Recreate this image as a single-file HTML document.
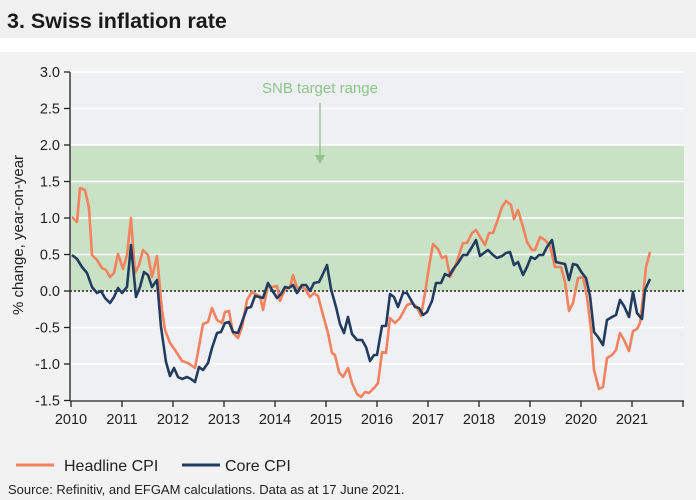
<!DOCTYPE html>
<html><head><style>
body{margin:0;width:696px;height:500px;overflow:hidden;background:#f1f1f1;font-family:"Liberation Sans",sans-serif}
</style></head><body>
<svg width="696" height="500" xmlns="http://www.w3.org/2000/svg" style="position:absolute;left:0;top:0">
<rect x="0" y="0" width="696" height="38" fill="#f0f0f0"/>
<rect x="0" y="38" width="696" height="14" fill="#ffffff"/>
<rect x="0" y="52" width="696" height="448" fill="#f2f2f2"/>
<text x="7" y="28" font-size="21.5" font-weight="bold" fill="#1a1a1a">3. Swiss inflation rate</text>
<rect x="70" y="72" width="614" height="329" fill="#eef0f4"/>
<rect x="70" y="145" width="614" height="146" fill="#c9e1c5"/>
<g stroke="#ffffff" stroke-width="1.5">
<line x1="70" x2="684" y1="72" y2="72"/><line x1="70" x2="684" y1="108.5" y2="108.5"/>
<line x1="70" x2="684" y1="145" y2="145"/><line x1="70" x2="684" y1="181.5" y2="181.5"/>
<line x1="70" x2="684" y1="218" y2="218"/><line x1="70" x2="684" y1="254.5" y2="254.5"/>
<line x1="70" x2="684" y1="327.5" y2="327.5"/><line x1="70" x2="684" y1="364" y2="364"/>
</g>
<line x1="70" x2="684" y1="291" y2="291" stroke="#222" stroke-width="1.5" stroke-dasharray="2,2"/>
<text x="320" y="93" font-size="15" fill="#8dc48b" text-anchor="middle">SNB target range</text>
<line x1="320" x2="320" y1="103" y2="160" stroke="#8dc48b" stroke-width="1.3"/>
<polygon points="315,155 325,155 320,164" fill="#8dc48b"/>
<polyline fill="none" stroke="#f4825f" stroke-width="2.6" stroke-linejoin="round" points="72,217 77,222 80,188 85,190 89,208 92,255 97,260 102,268 106,270 110,277 114,273 118,254 123,269 127,255 131,218 135,273 139,265 143,250 148,255 152,277 157,256 162,310 165,330 170,343 175,350 182,361 188,363 195,368 198,352 203,324 208,322 212,308 217,320 222,323 225,312 229,311 233,333 238,338 242,327 247,300 252,292 257,295 260,296 263,310 268,285 272,287 277,286 280,301 285,289 290,287 293,275 297,288 302,287 305,289 310,297 314,293 318,296 323,315 328,333 332,353 335,355 339,372 343,377 348,368 352,383 357,394 361,397 365,392 369,393 375,387 378,383 382,352 386,353 390,318 395,323 400,318 407,305 412,303 417,307 421,316 425,293 429,267 433,244 438,249 442,258 446,256 450,277 455,267 459,255 463,243 467,243 472,233 476,230 480,237 485,245 489,233 493,233 497,222 502,207 506,201 511,205 514,219 518,210 523,227 527,242 532,250 535,250 540,237 545,240 550,246 555,267 561,267 565,282 569,311 573,303 578,278 583,277 587,297 591,330 594,370 599,389 603,387 607,358 612,355 616,350 620,333 624,340 629,351 633,331 637,329 640,323 643,297 646,267 650,252"/>
<polyline fill="none" stroke="#233c5e" stroke-width="2.6" stroke-linejoin="round" points="72,255 77,259 82,267 87,273 92,287 97,293 101,291 105,298 110,303 114,297 118,288 122,293 127,287 131,245 136,297 140,287 144,272 148,275 152,287 157,280 161,327 166,362 170,376 174,368 178,377 182,379 187,377 191,379 195,382 199,367 203,370 208,363 212,348 217,333 221,332 225,323 229,322 233,332 238,333 242,322 247,308 251,307 255,296 259,297 263,298 268,283 272,290 277,298 281,294 285,287 289,288 293,285 297,293 302,285 306,285 310,291 314,283 319,282 322,276 327,265 331,289 336,307 340,324 344,333 348,317 352,334 357,340 362,340 366,347 370,361 374,355 377,355 382,326 386,326 390,294 394,297 398,307 403,293 407,293 411,300 415,307 419,308 423,315 427,312 432,301 436,283 441,283 445,274 449,276 454,268 458,263 463,255 467,255 472,247 476,240 480,256 484,253 488,250 493,255 497,258 502,256 506,253 510,252 514,265 518,262 523,275 527,267 531,257 535,259 539,255 543,255 547,247 552,240 556,262 560,263 565,264 569,280 573,264 577,265 582,273 586,278 590,296 594,332 598,337 603,345 607,320 612,317 616,315 620,300 624,306 629,317 633,292 637,313 642,319 645,290 650,279"/>
<g stroke="#222" stroke-width="1.3">
<line x1="70" x2="70" y1="72" y2="401"/>
<line x1="70" x2="684" y1="401" y2="401"/>
<line x1="64" x2="70" y1="72" y2="72"/><line x1="64" x2="70" y1="108.5" y2="108.5"/><line x1="64" x2="70" y1="145" y2="145"/><line x1="64" x2="70" y1="181.5" y2="181.5"/><line x1="64" x2="70" y1="218" y2="218"/><line x1="64" x2="70" y1="254.5" y2="254.5"/><line x1="64" x2="70" y1="291" y2="291"/><line x1="64" x2="70" y1="327.5" y2="327.5"/><line x1="64" x2="70" y1="364" y2="364"/><line x1="64" x2="70" y1="400.5" y2="400.5"/>
<line x1="71" x2="71" y1="401" y2="407"/><line x1="122" x2="122" y1="401" y2="407"/><line x1="173" x2="173" y1="401" y2="407"/><line x1="224" x2="224" y1="401" y2="407"/><line x1="275" x2="275" y1="401" y2="407"/><line x1="326" x2="326" y1="401" y2="407"/><line x1="377" x2="377" y1="401" y2="407"/><line x1="428" x2="428" y1="401" y2="407"/><line x1="479" x2="479" y1="401" y2="407"/><line x1="530" x2="530" y1="401" y2="407"/><line x1="581" x2="581" y1="401" y2="407"/><line x1="632" x2="632" y1="401" y2="407"/><line x1="683" x2="683" y1="401" y2="407"/>
</g>
<g font-size="14.5" fill="#222" text-anchor="end">
<text x="60" y="77">3.0</text><text x="60" y="113.5">2.5</text><text x="60" y="150">2.0</text><text x="60" y="186.5">1.5</text><text x="60" y="223">1.0</text><text x="60" y="259.5">0.5</text><text x="60" y="296">0.0</text><text x="60" y="332.5">-0.5</text><text x="60" y="369">-1.0</text><text x="60" y="405.5">-1.5</text>
</g>
<g font-size="14.5" fill="#222" text-anchor="middle">
<text x="71" y="424">2010</text><text x="122" y="424">2011</text><text x="173" y="424">2012</text><text x="224" y="424">2013</text><text x="275" y="424">2014</text><text x="326" y="424">2015</text><text x="377" y="424">2016</text><text x="428" y="424">2017</text><text x="479" y="424">2018</text><text x="530" y="424">2019</text><text x="581" y="424">2020</text><text x="632" y="424">2021</text>
</g>
<text transform="translate(23,235) rotate(-90)" font-size="15" fill="#222" text-anchor="middle">% change, year-on-year</text>
<line x1="16" x2="54" y1="465" y2="465" stroke="#f4825f" stroke-width="3"/>
<text x="64" y="471" font-size="16" fill="#222">Headline CPI</text>
<line x1="182" x2="220" y1="465" y2="465" stroke="#233c5e" stroke-width="3"/>
<text x="225" y="471" font-size="16" fill="#222">Core CPI</text>
<text x="8" y="494" font-size="13" fill="#222">Source: Refinitiv, and EFGAM calculations. Data as at 17 June 2021.</text>
</svg>
</body></html>
